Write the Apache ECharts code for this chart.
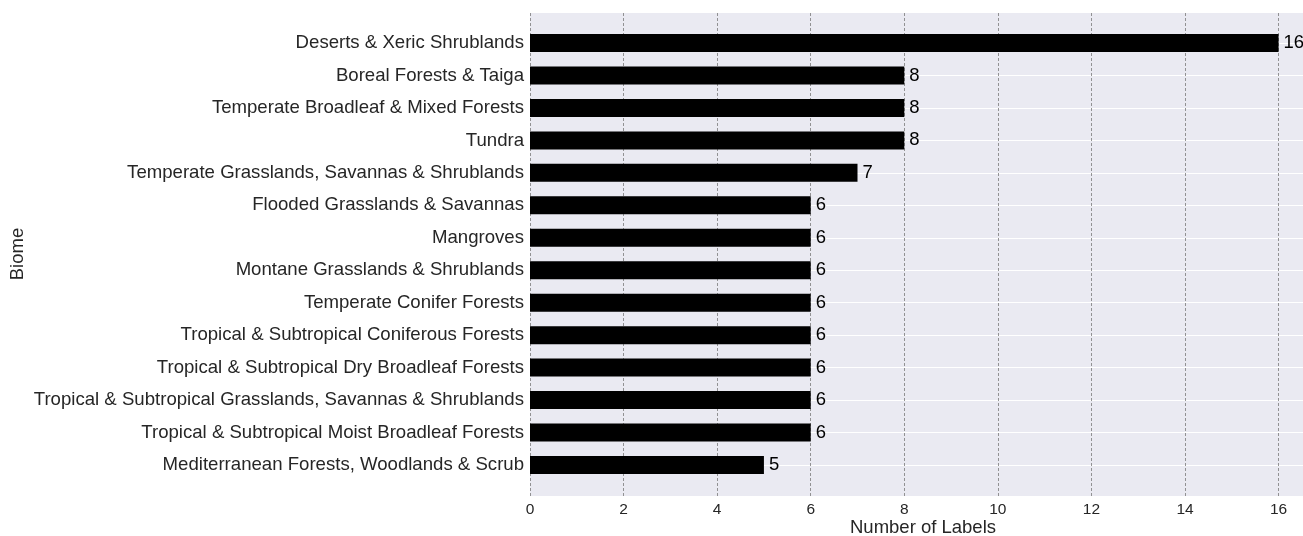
<!DOCTYPE html>
<html>
<head>
<meta charset="utf-8">
<script src="https://cdn.jsdelivr.net/npm/echarts@6/dist/echarts.min.js"></script>
<style>html,body{margin:0;padding:0;background:#fff}#chart{width:1303px;height:536px}</style>
</head>
<body>
<div id="chart"></div>
<script>
const categories = [
  "Deserts & Xeric Shrublands",
  "Boreal Forests & Taiga",
  "Temperate Broadleaf & Mixed Forests",
  "Tundra",
  "Temperate Grasslands, Savannas & Shrublands",
  "Flooded Grasslands & Savannas",
  "Mangroves",
  "Montane Grasslands & Shrublands",
  "Temperate Conifer Forests",
  "Tropical & Subtropical Coniferous Forests",
  "Tropical & Subtropical Dry Broadleaf Forests",
  "Tropical & Subtropical Grasslands, Savannas & Shrublands",
  "Tropical & Subtropical Moist Broadleaf Forests",
  "Mediterranean Forests, Woodlands & Scrub"
];
const labelCounts = [16, 8, 8, 8, 7, 6, 6, 6, 6, 6, 6, 6, 6, 5];
const xTicks = [0, 2, 4, 6, 8, 10, 12, 14, 16];

const font = "Liberation Sans, Arial, sans-serif";
const chart = echarts.init(document.getElementById('chart'), null, {renderer: 'canvas'});
chart.setOption({
  animation: false,
  grid: [
    {left: 530, right: -13, top: 13, bottom: 40, show: true, backgroundColor: '#EAEAF2', borderWidth: 0,
     containLabel: false, outerBoundsMode: 'none'},
    {left: 530, right: -13, top: 43, bottom: 71, show: false,
     containLabel: false, outerBoundsMode: 'none'}
  ],
  xAxis: [
    {
      gridIndex: 0, type: 'value', min: 0, max: 16.8, interval: 2,
      axisLine: {show: false}, axisTick: {show: false},
      axisLabel: {fontSize: 15.5, color: '#262626', margin: 6, fontFamily: font,
        formatter: v => xTicks.includes(v) ? String(v) : ''},
      splitLine: {show: true, lineStyle: {color: '#7a7a7a', width: 0.8, type: [3, 2]}},
      name: 'Number of Labels', nameLocation: 'middle', nameGap: 22, nameMoveOverlap: false,
      nameTextStyle: {fontSize: 18.5, color: '#262626', fontFamily: font}
    },
    {
      gridIndex: 1, type: 'value', min: 0, max: 16.8, show: false
    }
  ],
  yAxis: [
    {gridIndex: 0, type: 'value', show: false, splitLine: {show: false}},
    {
      gridIndex: 1, type: 'category', data: categories, inverse: true, boundaryGap: false,
      axisLine: {show: false}, axisTick: {show: false},
      axisLabel: {fontSize: 18.6, color: '#262626', margin: 6, fontFamily: font},
      splitLine: {show: true, lineStyle: {color: '#ffffff', width: 1.2}},
      name: 'Biome', nameLocation: 'middle', nameGap: 503, nameRotate: 90, nameMoveOverlap: false,
      nameTextStyle: {fontSize: 18.5, color: '#262626', fontFamily: font}
    }
  ],
  series: [{
    type: 'bar', xAxisIndex: 1, yAxisIndex: 1, data: labelCounts,
    barWidth: 18, clip: false,
    itemStyle: {color: '#000000'},
    label: {show: true, position: 'right', distance: 5, fontSize: 18.5, color: '#000', fontFamily: font},
    z: 3
  }]
});
</script>
</body>
</html>
